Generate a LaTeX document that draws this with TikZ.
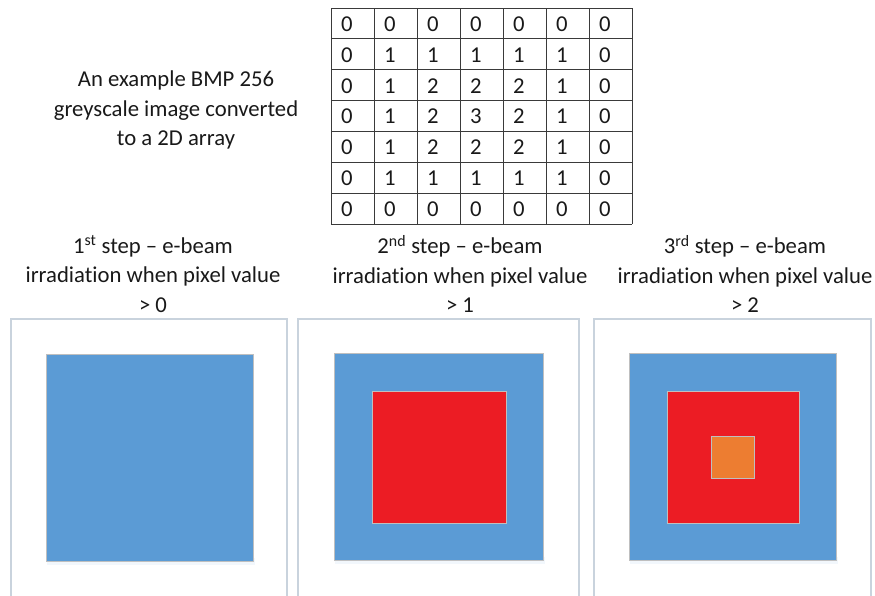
\documentclass[tikz,border=0pt]{standalone}
\usepackage{fontspec}
\setmainfont{Carlito}[Ligatures=NoCommon]
\definecolor{pblue}{HTML}{5B9BD5}
\definecolor{pred}{HTML}{EC1C24}
\definecolor{porange}{HTML}{ED7D31}
\definecolor{frame}{HTML}{C9D3DD}
\definecolor{edge}{HTML}{BFBFBF}
\definecolor{grid}{HTML}{3A3A3A}
\begin{document}
\begin{tikzpicture}[x=1pt,y=-1pt,
  txt/.style={font=\fontsize{22.7}{29.5}\selectfont, align=center, inner sep=0pt, text=black!90},
  digit/.style={font=\fontsize{22.7}{26}\selectfont, anchor=west, inner sep=0pt, text=black!90},
  panel/.style={draw=frame, line width=1.4pt},
  sq/.style={draw=edge, line width=0.8pt}]
\useasboundingbox (0,0) rectangle (875,595);
% caption
\node[txt] (cap) at (176,110) {An example BMP 256\\greyscale image converted\\to a 2D array};
% table
\foreach \r/\row in {0/{0,0,0,0,0,0,0},1/{0,1,1,1,1,1,0},2/{0,1,2,2,2,1,0},3/{0,1,2,3,2,1,0},4/{0,1,2,2,2,1,0},5/{0,1,1,1,1,1,0},6/{0,0,0,0,0,0,0}}{
  \foreach \v [count=\c from 0] in \row {
    \node[digit] (d-\r-\c) at ({331+43*\c+10},{8+30.857*\r+16}) {\v};
  }
}
\foreach \i in {0,...,7}{
  \draw[grid, line width=0.9pt] ({331+43*\i},8) -- ({331+43*\i},224);
  \draw[grid, line width=0.9pt] (331,{8+30.857*\i}) -- (632,{8+30.857*\i});
}
% headings
\node[txt] (h1) at (153,274) {1\textsuperscript{st} step – e-beam\\irradiation when pixel value\\> 0};
\node[txt] (h2) at (460,274) {2\textsuperscript{nd} step – e-beam\\irradiation when pixel value\\> 1};
\node[txt] (h3) at (745,274) {3\textsuperscript{rd} step – e-beam\\irradiation when pixel value\\> 2};
% panel 1
\draw[panel] (11,596) -- (11,319) -- (287,319) -- (287,596);
\fill[pblue!20, opacity=0.4] (47,558) rectangle (255,565);
\draw[sq, fill=pblue] (46,354) rectangle (253,561);
% panel 2
\draw[panel] (298,596) -- (298,319) -- (579,319) -- (579,596);
\fill[pblue!20, opacity=0.4] (335,557) rectangle (545,564);
\draw[sq, fill=pblue] (334,353) rectangle (543,560);
\draw[sq, fill=pred] (372,391) rectangle (506,523);
% panel 3
\draw[panel] (594,596) -- (594,319) -- (871,319) -- (871,596);
\fill[pblue!20, opacity=0.4] (630,557) rectangle (838,564);
\draw[sq, fill=pblue] (629,353) rectangle (836,560);
\draw[sq, fill=pred] (667,391) rectangle (799,523);
\draw[sq, fill=porange] (711,436) rectangle (754,478);
\end{tikzpicture}
\end{document}
